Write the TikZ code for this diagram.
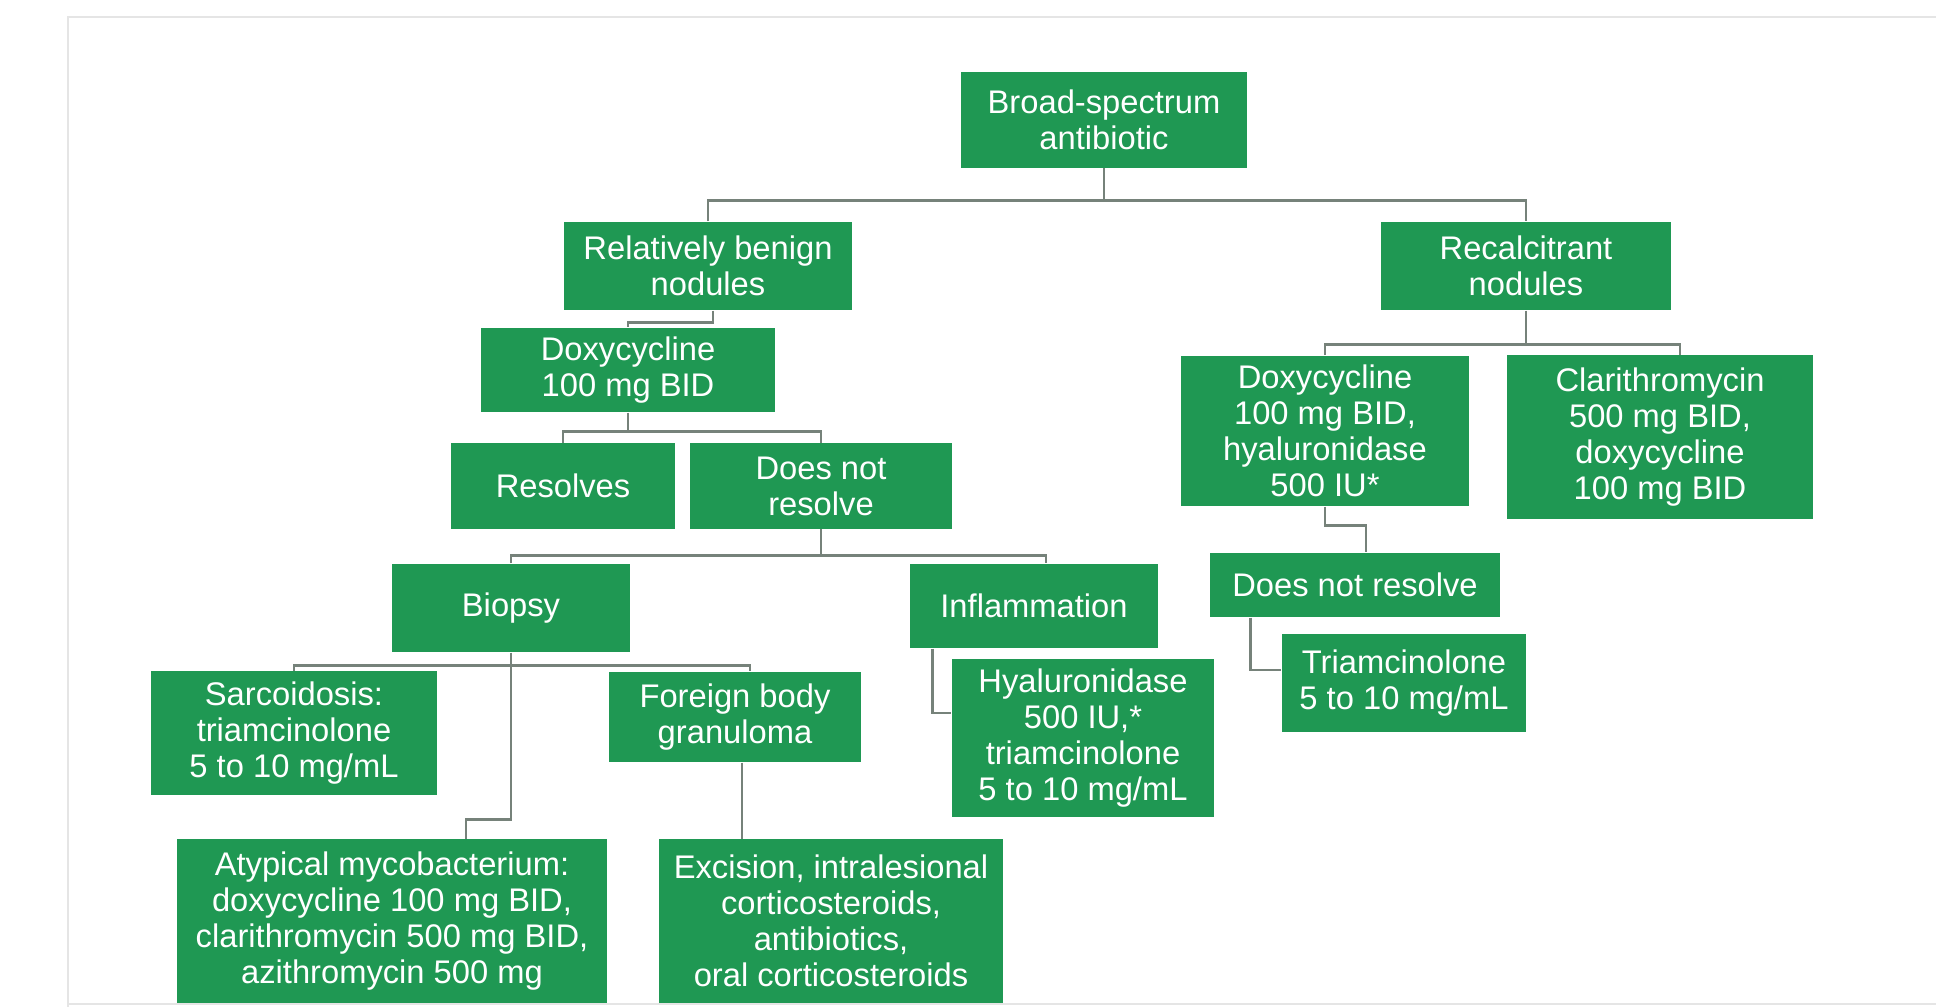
\documentclass[tikz,border=0pt]{standalone}
\usepackage{fontspec}
\setmainfont{Liberation Sans}
\usepackage{tikz}
\usetikzlibrary{calc}
\definecolor{boxgreen}{RGB}{31,152,83}
\definecolor{linkgray}{RGB}{118,130,122}
\tikzset{
  box/.style={fill=boxgreen, text=white, align=center, inner sep=2pt,
              font=\fontsize{9.3}{10.2}\selectfont},
  link/.style={draw=linkgray, line width=0.75pt},
  frame/.style={draw=black!10, line width=0.6pt},
}
\begin{document}
\begin{tikzpicture}[x=0.01cm,y=-0.01cm]
\useasboundingbox (0,0) rectangle (1936,1007);
\draw[frame] (1936,17) -- (68,17) -- (68,1007);
\draw[frame] (68,1004) -- (1936,1004);

% top
\node[box, minimum width=2.86cm, minimum height=0.95cm] (root) at (1104,120) {Broad-spectrum\\antibiotic};
\node[box, minimum width=2.87cm, minimum height=0.88cm] (benign) at (708,266) {Relatively benign\\nodules};
\node[box, minimum width=2.89cm, minimum height=0.88cm] (recalc) at (1526,266) {Recalcitrant\\nodules};

% left branch
\node[box, minimum width=2.93cm, minimum height=0.84cm] (doxy) at (628,370) {Doxycycline\\100 mg BID};
\node[box, minimum width=2.24cm, minimum height=0.85cm] (resolves) at (563,486) {Resolves};
\node[box, minimum width=2.62cm, minimum height=0.85cm] (noresolve) at (821,486) {Does not\\resolve};
\node[box, minimum width=2.37cm, minimum height=0.88cm] (biopsy) at (511,608) {Biopsy};
\node[box, minimum width=2.48cm, minimum height=0.84cm] (inflam) at (1034,606) {Inflammation};
\node[box, minimum width=2.86cm, minimum height=1.23cm] (sarcoid) at (294,733) {Sarcoidosis:\\triamcinolone\\5 to 10 mg/mL};
\node[box, minimum width=2.52cm, minimum height=0.90cm] (foreign) at (735,717) {Foreign body\\granuloma};
\node[box, minimum width=2.62cm, minimum height=1.58cm] (hyal) at (1083,738) {Hyaluronidase\\500 IU,*\\triamcinolone\\5 to 10 mg/mL};
\node[box, minimum width=4.30cm, minimum height=1.63cm] (atypical) at (392,921) {Atypical mycobacterium:\\doxycycline 100 mg BID,\\clarithromycin 500 mg BID,\\azithromycin 500 mg};
\node[box, minimum width=3.44cm, minimum height=1.63cm] (excision) at (831,921) {Excision, intralesional\\corticosteroids,\\antibiotics,\\oral corticosteroids};

% right branch
\node[box, minimum width=2.87cm, minimum height=1.50cm] (rdoxy) at (1325,431) {Doxycycline\\100 mg BID,\\hyaluronidase\\500 IU*};
\node[box, minimum width=3.05cm, minimum height=1.63cm] (clari) at (1660,437) {Clarithromycin\\500 mg BID,\\doxycycline\\100 mg BID};
\node[box, minimum width=2.89cm, minimum height=0.64cm] (rnoresolve) at (1355,585) {Does not resolve};
\node[box, minimum width=2.44cm, minimum height=0.97cm] (triam) at (1404,683) {Triamcinolone\\5 to 10 mg/mL};

% connectors
\draw[link] (root.south) -- ++(0,32) coordinate (busA);
\draw[link] (benign.north) |- (busA) -| (recalc.north);
\draw[link] ($(benign.south)+(5,0)$) -- ++(0,12) -| (doxy.north);
\draw[link] (doxy.south) -- ++(0,19) coordinate (busB);
\draw[link] (resolves.north) |- (busB) -| (noresolve.north);
\draw[link] (noresolve.south) -- ++(0,26) coordinate (busC);
\draw[link] (biopsy.north) |- (busC) -| ($(inflam.north)+(12,0)$);
\draw[link] (biopsy.south) -- ++(0,13) coordinate (busD);
\draw[link] (sarcoid.north) |- (busD) -| ($(foreign.north)+(15,0)$);
\draw[link] (busD) |- ($(atypical.north)+(74,-19)$) -- ($(atypical.north)+(74,0)$);
\draw[link] ($(foreign.south)+(7,0)$) coordinate (fb) -- (fb |- excision.north);
\draw[link] ($(inflam.south west)+(23,0)$) |- ($(hyal.west)+(0,-25)$);
\draw[link] (recalc.south) -- ++(0,34) coordinate (busE);
\draw[link] (rdoxy.north) |- (busE) -| ($(clari.north)+(20,0)$);
\draw[link] (rdoxy.south) -- ++(0,19) -| ($(rnoresolve.north)+(11,0)$);
\draw[link] ($(rnoresolve.south west)+(41,0)$) |- ($(triam.west)+(0,-13)$);
\end{tikzpicture}
\end{document}
